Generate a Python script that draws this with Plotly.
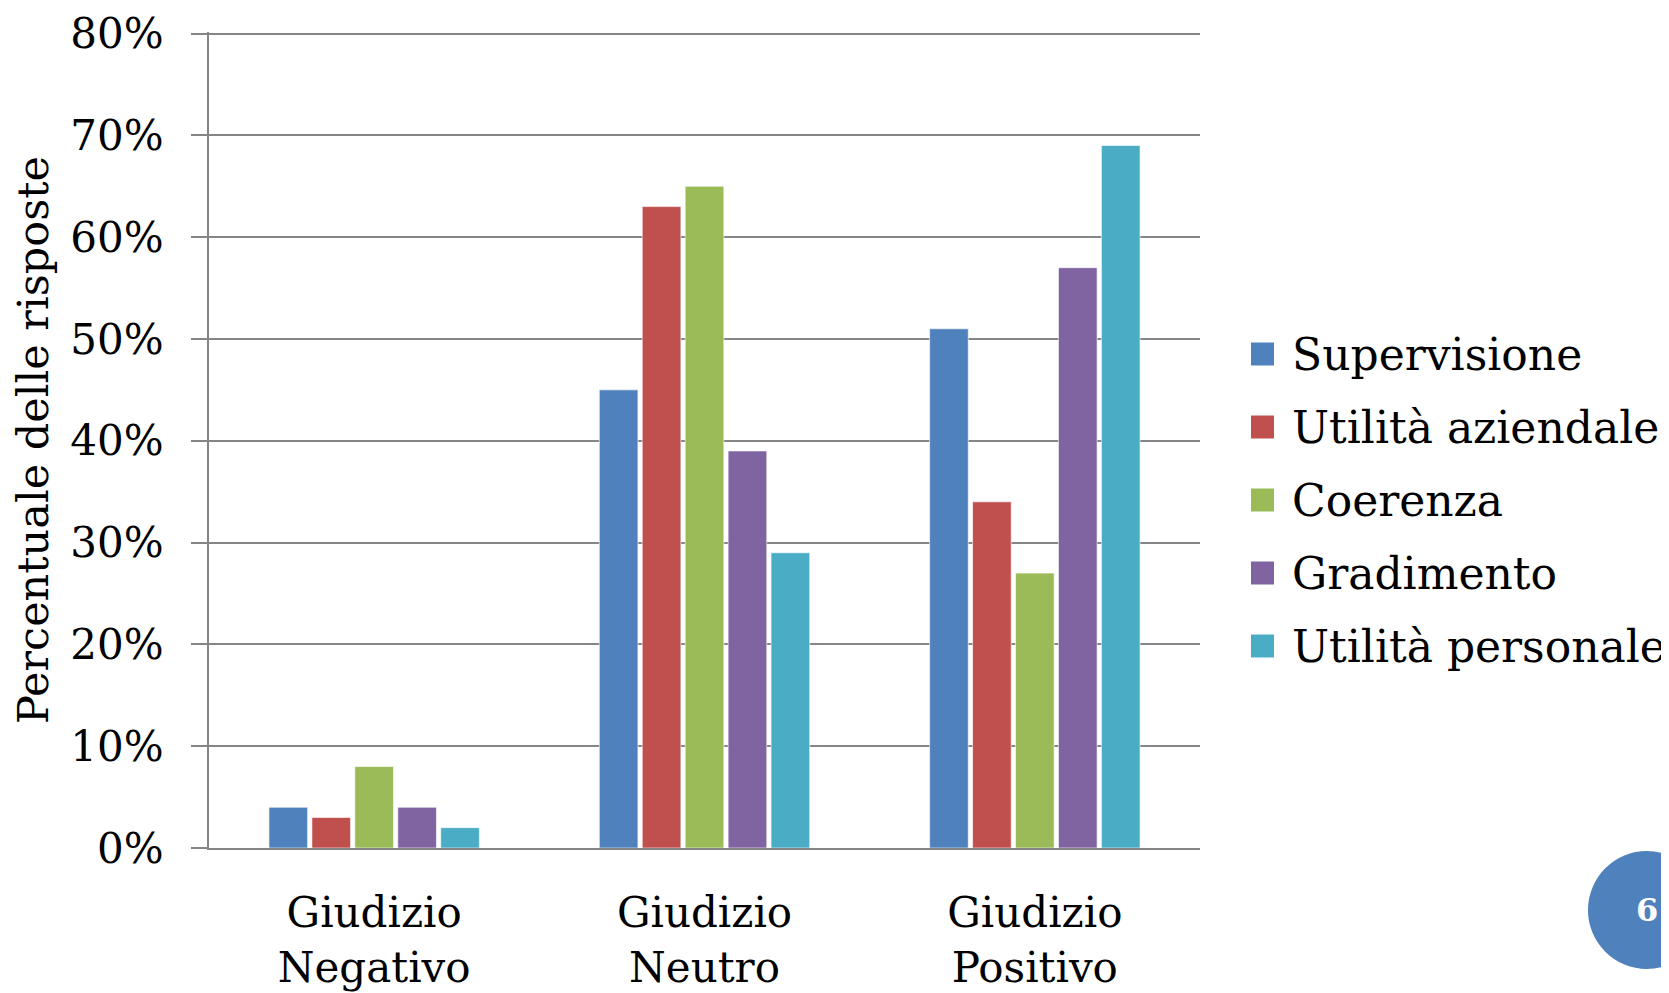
import plotly.graph_objects as go

categories = ["Giudizio<br>Negativo", "Giudizio<br>Neutro", "Giudizio<br>Positivo"]
series_names = ["Supervisione", "Utilità aziendale", "Coerenza", "Gradimento", "Utilità personale"]
supervisione = [4, 45, 51]
utilita_aziendale = [3, 63, 34]
coerenza = [8, 65, 27]
gradimento = [4, 39, 57]
utilita_personale = [2, 29, 69]
y_ticks = [0, 10, 20, 30, 40, 50, 60, 70, 80]
y_tick_labels = [f"{v}%" for v in y_ticks]
colors = ["#4F81BD", "#C0504D", "#9BBB59", "#8064A2", "#4BACC6"]

FONT = "DejaVu Serif"
series_values = [supervisione, utilita_aziendale, coerenza, gradimento, utilita_personale]

fig = go.Figure()
for name, vals, col in zip(series_names, series_values, colors):
    fig.add_trace(go.Bar(name=name, x=categories, y=vals, marker_color=col,
                         marker_line_color="rgba(255,255,255,0.6)", marker_line_width=1,
                         showlegend=False))

fig.update_layout(
    width=1669, height=993,
    margin=dict(l=201, r=477, t=24, b=153, autoexpand=False),
    paper_bgcolor="white", plot_bgcolor="white",
    barmode="group", bargap=0.35, bargroupgap=0.1,
    font=dict(family=FONT, size=42, color="black"),
    showlegend=False,
)
fig.update_yaxes(range=[0, 80.15], tickvals=y_ticks, ticktext=y_tick_labels,
                 automargin=False,
                 showgrid=True, gridcolor="#868686", gridwidth=2,
                 showline=True, linecolor="#868686", linewidth=2,
                 ticks="outside", ticklen=16, tickcolor="#868686", tickwidth=2,
                 ticklabelstandoff=19,
                 zeroline=False,
                 title=dict(text="Percentuale delle risposte", font=dict(family=FONT, size=43), standoff=14),
                 tickfont=dict(family=FONT, size=42))
fig.update_xaxes(showline=True, linecolor="#868686", linewidth=2, ticks="",
                 automargin=False,
                 ticklabelstandoff=27,
                 tickfont=dict(family=FONT, size=42))

# manual legend (larger swatches, as in the original)
plot_w, plot_h = 991.0, 816.0
leg_x0 = (1251 - 209) / plot_w
leg_sw = 23 / plot_w
leg_tx = (1290 - 209) / plot_w
leg_y_first = (848 - 354) / plot_h
leg_step = 73 / plot_h
half = 11.5 / plot_h
for i, (name, col) in enumerate(zip(series_names, colors)):
    yc = leg_y_first - i * leg_step
    fig.add_shape(type="rect", xref="paper", yref="paper",
                  x0=leg_x0, x1=leg_x0 + leg_sw, y0=yc - half, y1=yc + half,
                  fillcolor=col, line=dict(width=0))
    fig.add_annotation(x=leg_tx, y=yc, xref="paper", yref="paper", text=name,
                       xanchor="left", yanchor="middle", showarrow=False,
                       font=dict(family=FONT, size=44, color="black"))

fig.add_shape(type="circle", xref="paper", yref="paper",
              x0=1.451 - 0.0595, x1=1.451 + 0.0595, y0=-0.076 - 0.0723, y1=-0.076 + 0.0723,
              fillcolor="#4F81BD", line=dict(width=0), layer="above")
fig.add_annotation(x=1.451, y=-0.076, xref="paper", yref="paper", text="<b>6</b>",
                   xanchor="center", yanchor="middle",
                   showarrow=False, font=dict(family=FONT, size=32, color="white"))

fig.write_html("out.html")
